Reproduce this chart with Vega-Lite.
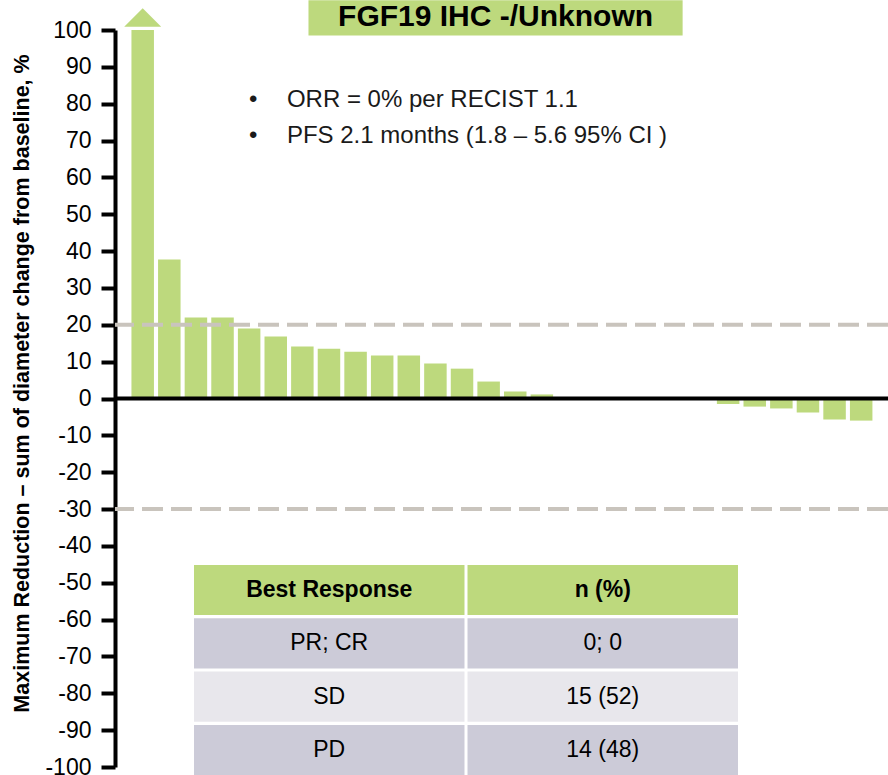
{
  "$schema": "https://vega.github.io/schema/vega-lite/v6.json",
  "width": 773,
  "height": 737,
  "autosize": "none",
  "padding": {"left": 115, "top": 30, "right": 0, "bottom": 8},
  "background": "white",
  "config": {
    "view": {"stroke": null},
    "font": "Liberation Sans"
  },
  "datasets": {
    "bars": [
      {"rank": 1, "value": 100}, {"rank": 2, "value": 37.7}, {"rank": 3, "value": 22},
      {"rank": 4, "value": 22}, {"rank": 5, "value": 19}, {"rank": 6, "value": 16.8},
      {"rank": 7, "value": 14.1}, {"rank": 8, "value": 13.5}, {"rank": 9, "value": 12.7},
      {"rank": 10, "value": 11.7}, {"rank": 11, "value": 11.7}, {"rank": 12, "value": 9.5},
      {"rank": 13, "value": 8.1}, {"rank": 14, "value": 4.6}, {"rank": 15, "value": 1.9},
      {"rank": 16, "value": 1.1}, {"rank": 17, "value": 0}, {"rank": 18, "value": 0},
      {"rank": 19, "value": 0}, {"rank": 20, "value": 0}, {"rank": 21, "value": 0},
      {"rank": 22, "value": 0}, {"rank": 23, "value": -1.5}, {"rank": 24, "value": -2.2},
      {"rank": 25, "value": -2.7}, {"rank": 26, "value": -3.8}, {"rank": 27, "value": -5.7},
      {"rank": 28, "value": -6}
    ],
    "table": [
      {"row": "header", "col": "c1", "label": "Best Response"},
      {"row": "header", "col": "c2", "label": "n (%)"},
      {"row": "PR; CR", "col": "c1", "label": "PR; CR"},
      {"row": "PR; CR", "col": "c2", "label": "0; 0"},
      {"row": "SD", "col": "c1", "label": "SD"},
      {"row": "SD", "col": "c2", "label": "15 (52)"},
      {"row": "PD", "col": "c1", "label": "PD"},
      {"row": "PD", "col": "c2", "label": "14 (48)"}
    ]
  },
  "resolve": {"scale": {"x": "independent", "y": "independent", "color": "independent"}},
  "layer": [
    {
      "resolve": {"axis": {"y": "independent"}},
      "layer": [
        {
          "data": {"name": "bars"},
          "mark": {"type": "bar", "width": 22.5, "color": "#bdd97d"},
          "encoding": {
            "x": {"field": "rank", "type": "quantitative", "axis": null, "scale": {"domain": [0.147, 28.82], "nice": false, "zero": false}},
            "y": {
              "field": "value", "type": "quantitative",
              "scale": {"domain": [-100, 100], "nice": false},
              "axis": {
                "values": [-100, -90, -80, -70, -60, -50, -40, -30, -20, -10, 0, 10, 20, 30, 40, 50, 60, 70, 80, 90, 100],
                "labelOverlap": false,
                "labelExpr": "replace(format(datum.value, 'd'), '−', '-')",
                "grid": false,
                "domainColor": "black", "domainWidth": 4,
                "tickColor": "black", "tickWidth": 4, "tickSize": 14,
                "labelFont": "Liberation Sans", "labelFontSize": 23, "labelColor": "black", "labelPadding": 10,
                "title": "Maximum Reduction – sum of diameter change from baseline, %",
                "titleFont": "Liberation Sans", "titleFontSize": 21.5, "titleFontWeight": "bold", "titleColor": "black",
                "titlePadding": 11,
                "titleY": 353
              }
            }
          }
        },
        {
          "data": {"values": [{}]},
          "mark": {"type": "point", "shape": "M-1,0.5L0,-0.5L1,0.5Z", "size": 1369, "filled": true, "color": "#bdd97d", "opacity": 1},
          "encoding": {"x": {"datum": 1}, "y": {"datum": 103.4, "axis": null}}
        },
        {
          "data": {"values": [{}]},
          "mark": {"type": "rule", "color": "#c9c4bd", "strokeWidth": 4, "strokeDash": [21, 8]},
          "encoding": {"y": {"datum": 20, "axis": null}}
        },
        {
          "data": {"values": [{}]},
          "mark": {"type": "rule", "color": "#c9c4bd", "strokeWidth": 4, "strokeDash": [21, 8]},
          "encoding": {"y": {"datum": -30, "axis": null}}
        },
        {
          "data": {"values": [{}]},
          "mark": {"type": "rule", "color": "black", "strokeWidth": 4},
          "encoding": {"y": {"datum": 0, "axis": null}}
        },
        {
          "data": {"values": [{}]},
          "mark": {"type": "rect", "color": "#bdd97d"},
          "encoding": {"x": {"datum": 7.23}, "x2": {"datum": 21.29}, "y": {"datum": 108.1, "axis": null}, "y2": {"datum": 98.5}}
        },
        {
          "data": {"values": [{}]},
          "mark": {"type": "text", "text": "FGF19 IHC -/Unknown", "fontSize": 30, "fontWeight": "bold", "color": "black", "align": "center", "baseline": "middle"},
          "encoding": {"x": {"datum": 14.26}, "y": {"datum": 103.6, "axis": null}}
        },
        {
          "data": {"values": [{}]},
          "mark": {"type": "text", "text": "•", "fontSize": 24, "color": "#1a1a1a", "align": "center", "baseline": "middle"},
          "encoding": {"x": {"datum": 5.15}, "y": {"datum": 81, "axis": null}}
        },
        {
          "data": {"values": [{}]},
          "mark": {"type": "text", "text": "•", "fontSize": 24, "color": "#1a1a1a", "align": "center", "baseline": "middle"},
          "encoding": {"x": {"datum": 5.15}, "y": {"datum": 71.2, "axis": null}}
        },
        {
          "data": {"values": [{}]},
          "mark": {"type": "text", "text": "ORR = 0% per RECIST 1.1", "fontSize": 24, "color": "#1a1a1a", "align": "left", "baseline": "middle"},
          "encoding": {"x": {"datum": 6.42}, "y": {"datum": 81, "axis": null}}
        },
        {
          "data": {"values": [{}]},
          "mark": {"type": "text", "text": "PFS  2.1 months (1.8 – 5.6 95% CI )", "fontSize": 24, "color": "#1a1a1a", "align": "left", "baseline": "middle"},
          "encoding": {"x": {"datum": 6.42}, "y": {"datum": 71.2, "axis": null}}
        }
      ]
    },
    {
      "data": {"name": "table"},
      "encoding": {
        "x": {"field": "col", "type": "nominal", "axis": null, "scale": {"domain": ["c1", "c2"], "range": [79, 623], "paddingInner": 0.011, "paddingOuter": 0}},
        "y": {"field": "row", "type": "nominal", "axis": null, "scale": {"domain": ["header", "PR; CR", "SD", "PD"], "range": [535, 745], "paddingInner": 0.06, "paddingOuter": 0}}
      },
      "layer": [
        {
          "mark": {"type": "rect"},
          "encoding": {
            "color": {"field": "row", "type": "nominal", "legend": null, "scale": {"domain": ["header", "PR; CR", "SD", "PD"], "range": ["#bdd97d", "#cccbd8", "#e8e7ec", "#cccbd8"]}}
          }
        },
        {
          "transform": [{"filter": "datum.row === 'header'"}],
          "mark": {"type": "text", "fontSize": 23, "fontWeight": "bold", "color": "black"},
          "encoding": {"text": {"field": "label"}}
        },
        {
          "transform": [{"filter": "datum.row !== 'header'"}],
          "mark": {"type": "text", "fontSize": 23, "color": "black"},
          "encoding": {"text": {"field": "label"}}
        }
      ]
    }
  ]
}
